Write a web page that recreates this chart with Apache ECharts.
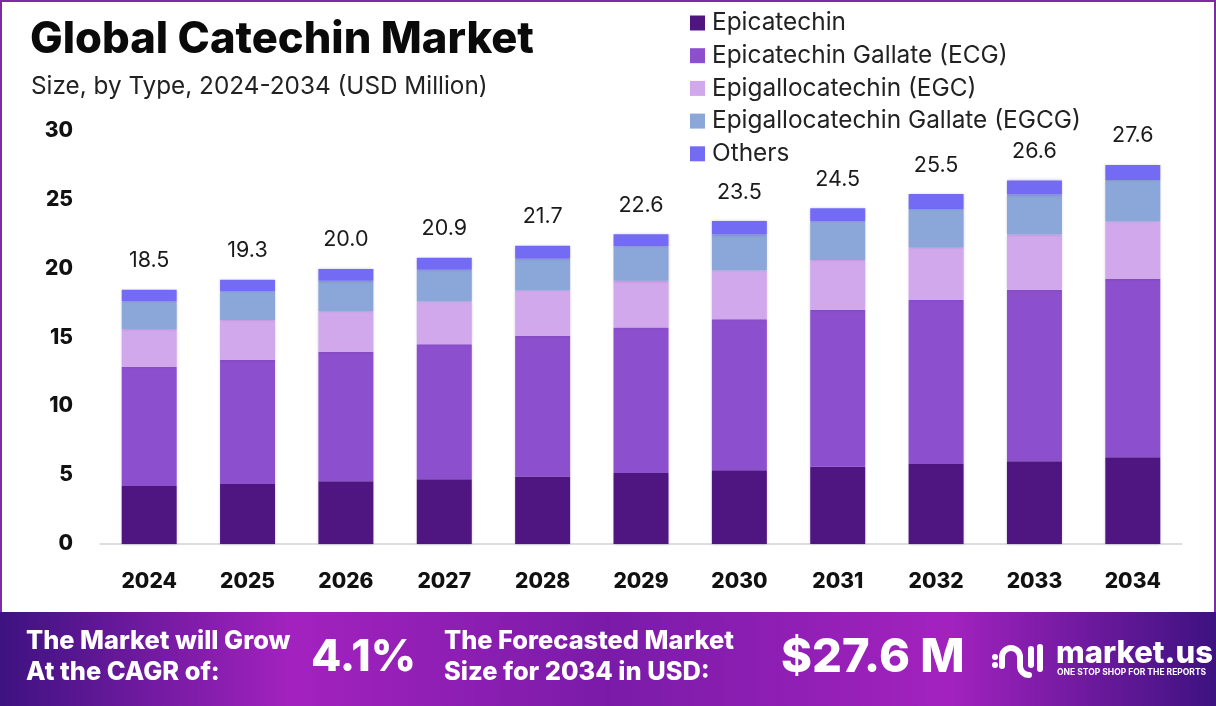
<!DOCTYPE html>
<html>
<head>
<meta charset="utf-8">
<title>Global Catechin Market</title>
<style>
  html, body { margin: 0; padding: 0; background: #fff; }
  #chart { width: 1216px; height: 706px; }
</style>
<script src="https://cdn.jsdelivr.net/npm/echarts@6/dist/echarts.min.js"></script>
</head>
<body>
<div id="chart"></div>
<script>
const years = ['2024', '2025', '2026', '2027', '2028', '2029', '2030', '2031', '2032', '2033', '2034']
const totals = [18.5, 19.3, 20.0, 20.9, 21.7, 22.6, 23.5, 24.5, 25.5, 26.6, 27.6]
const epicatechin = [4.2, 4.35, 4.55, 4.7, 4.9, 5.15, 5.35, 5.6, 5.8, 6.0, 6.3]
const ecg = [8.65, 9.0, 9.4, 9.8, 10.2, 10.55, 10.95, 11.4, 11.9, 12.45, 12.95]
const egc = [2.75, 2.9, 2.95, 3.1, 3.3, 3.4, 3.55, 3.6, 3.85, 4.0, 4.15]
const egcg = [2.0, 2.1, 2.2, 2.3, 2.3, 2.5, 2.6, 2.8, 2.75, 2.9, 3.0]
const others = [0.85, 0.82, 0.85, 0.87, 0.93, 0.87, 0.98, 0.96, 1.09, 1.03, 1.1]

const font = 'Inter, "Noto Sans", sans-serif'
const names = ['Epicatechin', 'Epicatechin Gallate (ECG)', 'Epigallocatechin (EGC)', 'Epigallocatechin Gallate (EGCG)', 'Others']
const colors = ['#4f1682', '#8c4fcd', '#d2a8ec', '#8ba6d9', '#746bf5']
const values = [epicatechin, ecg, egc, egcg, others]

let series = names.map((name, i) => ({
  name: name,
  type: 'bar',
  stack: 'total',
  barWidth: 55,
  data: values[i],
  itemStyle: { color: colors[i], shadowColor: 'rgba(60,40,110,.28)', shadowBlur: 3 },
  // total goes on the top segment
  label: i === 4 ? {
    show: true,
    position: 'top',
    distance: 18,
    fontFamily: font,
    fontSize: 21.5,
    color: '#1a1a1a',
    formatter: p => totals[p.dataIndex].toFixed(1)
  } : { show: false }
}))

// footer text, white with a soft shadow
function footerText (text, x, y, size) {
  return {
    type: 'text',
    z: 13,
    x: x,
    y: y,
    style: {
      text: text,
      fill: '#fff',
      font: `800 ${size}px ${font}`,
      verticalAlign: 'middle',
      shadowColor: 'rgba(40,0,70,.55)',
      shadowBlur: 3,
      shadowOffsetY: 2
    }
  }
}

let footerFill = new echarts.graphic.LinearGradient(0, 0, 1, 0, [
  { offset: 0, color: '#3d1280' },
  { offset: 0.24, color: '#a322bf' },
  { offset: 0.5, color: '#7a1ba8' },
  { offset: 0.78, color: '#a322bf' },
  { offset: 1, color: '#3d1280' }
])

const logoStroke = { fill: 'none', stroke: '#fff', lineWidth: 6, lineCap: 'round' }

let chart = echarts.init(document.getElementById('chart'))
chart.setOption({
  animation: false,
  backgroundColor: '#fff',
  title: [
    { text: 'Global Catechin Market', left: 30, top: 18, padding: 0, textStyle: { fontFamily: font, fontWeight: 800, fontSize: 43.5, color: '#0a0a0a' } },
    { text: 'Size, by Type, 2024-2034 (USD Million)', left: 31, top: 75, padding: 0, textStyle: { fontFamily: font, fontWeight: 400, fontSize: 24.3, color: '#222' } }
  ],
  legend: {
    orient: 'vertical',
    left: 685,
    top: 6,
    itemWidth: 15,
    itemHeight: 15,
    itemGap: 8.7,
    icon: 'rect',
    selectedMode: false,
    textStyle: { fontFamily: font, fontSize: 24.4, color: '#222', lineHeight: 22, padding: [0, 0, 0, 2] },
    data: names
  },
  grid: { left: 100, right: 34, top: 130.5, bottom: 162 },
  xAxis: {
    type: 'category',
    data: years,
    axisTick: { show: false },
    axisLine: { lineStyle: { color: '#d4d4d8', width: 1.5 } },
    axisLabel: { fontFamily: font, fontWeight: 800, fontSize: 21, color: '#111', margin: 27 }
  },
  yAxis: {
    type: 'value',
    min: 0,
    max: 30,
    interval: 5,
    axisLine: { show: false },
    axisTick: { show: false },
    splitLine: { show: false },
    axisLabel: { fontFamily: font, fontWeight: 800, fontSize: 21, color: '#111', margin: 27 }
  },
  series: series,
  graphic: [
    // outer frame
    { type: 'rect', silent: true, z: 10, shape: { x: 1, y: 1, width: 1214, height: 704 }, style: { fill: 'none', stroke: '#7e2aa8', lineWidth: 2 } },
    // footer band
    { type: 'rect', silent: true, z: 11, shape: { x: 0, y: 612, width: 1216, height: 94 }, style: { fill: footerFill } },
    footerText('The Market will Grow', 26, 641, 25.4),
    footerText('At the CAGR of:', 26, 672, 25.4),
    footerText('4.1%', 311, 658, 44),
    footerText('The Forecasted Market', 444, 641, 25.4),
    footerText('Size for 2034 in USD:', 444, 672, 25.4),
    footerText('$27.6 M', 781, 658, 47),
    footerText('market.us', 1056, 654, 31),
    {
      type: 'text', z: 13, x: 1057, y: 672,
      style: { text: 'ONE STOP SHOP FOR THE REPORTS', fill: '#fff', font: `700 8.5px ${font}`, verticalAlign: 'middle' }
    },
    // logo mark
    { type: 'circle', z: 13, shape: { cx: 995, cy: 657, r: 3 }, style: { fill: '#fff' } },
    { type: 'circle', z: 13, shape: { cx: 995, cy: 665, r: 3 }, style: { fill: '#fff' } },
    { type: 'arc', z: 13, shape: { cx: 1011, cy: 657, r: 9, startAngle: Math.PI, endAngle: 0 }, style: logoStroke },
    { type: 'line', z: 13, shape: { x1: 1002, y1: 657, x2: 1002, y2: 666 }, style: logoStroke },
    { type: 'line', z: 13, shape: { x1: 1020, y1: 657, x2: 1020, y2: 666 }, style: logoStroke },
    { type: 'arc', z: 13, shape: { cx: 1029, cy: 666, r: 9, startAngle: Math.PI, endAngle: Math.PI / 2, clockwise: false }, style: logoStroke },
    { type: 'line', z: 13, shape: { x1: 1031, y1: 649, x2: 1031, y2: 665 }, style: logoStroke },
    { type: 'line', z: 13, shape: { x1: 1040, y1: 647, x2: 1040, y2: 669 }, style: logoStroke }
  ]
})
</script>
</body>
</html>
